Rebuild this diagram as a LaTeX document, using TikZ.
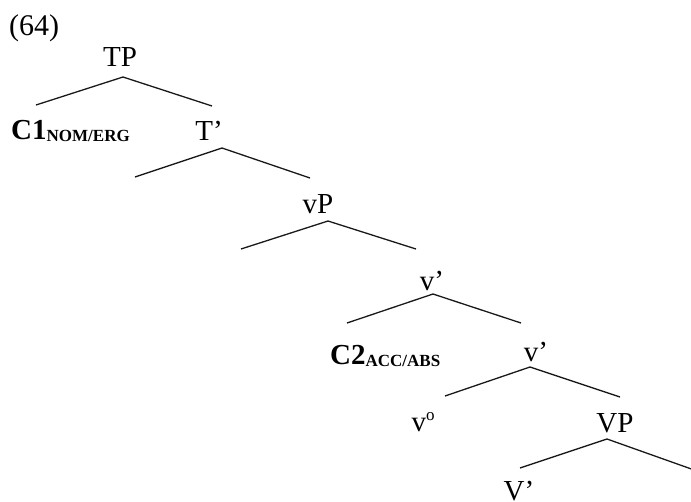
\documentclass[tikz,border=0pt]{standalone}
\usepackage{fontspec}
\setmainfont{Liberation Serif}
\tikzset{
  lab/.style={anchor=base, inner sep=0pt, font=\fontsize{29pt}{31pt}\selectfont},
  blab/.style={anchor=base west, inner sep=0pt, font=\fontsize{29pt}{31pt}\selectfont\bfseries},
  branch/.style={line width=1.3pt, black!90},
}
\newcommand{\subsc}[1]{\raisebox{-2.5pt}{\fontsize{17pt}{18pt}\selectfont\bfseries #1}}
\begin{document}
\begin{tikzpicture}[x=1pt,y=-1pt]
\useasboundingbox (0,0) rectangle (691,501);
\clip (0,0) rectangle (691,501);
\node[anchor=base west, inner sep=0pt, font=\fontsize{30pt}{32pt}\selectfont] (ex) at (9,35) {(64)};
\node[lab] (TP) at (120,66) {TP};
\node[blab] (C1) at (11,139) {C1\subsc{NOM/ERG}};
\node[lab] (T1) at (209,140) {T’};
\node[lab] (vP) at (318,213) {vP};
\node[lab] (v1) at (432,290) {v’};
\node[blab] (C2) at (330,364) {C2\subsc{ACC/ABS}};
\node[lab] (v2) at (536,361) {v’};
\node[lab] (v0) at (423,431) {v\raisebox{11pt}{\fontsize{17pt}{18pt}\selectfont o}};
\node[lab] (VP) at (615,432) {VP};
\node[lab] (V1) at (519,500) {V’};
% branch points
\coordinate (TPa) at (123,77);
\coordinate (TPl) at (36,105);
\coordinate (TPr) at (212,106);
\coordinate (T1a) at (222,148);
\coordinate (T1l) at (135,177);
\coordinate (T1r) at (310,178);
\coordinate (vPa) at (328,221);
\coordinate (vPl) at (241,249);
\coordinate (vPr) at (416,249);
\coordinate (v1a) at (433,294);
\coordinate (v1l) at (347,323);
\coordinate (v1r) at (521,323);
\coordinate (v2a) at (530,367);
\coordinate (v2l) at (445,396);
\coordinate (v2r) at (620,397);
\coordinate (VPa) at (607,439);
\coordinate (VPl) at (520,468);
\coordinate (VPr) at (697,471);
\draw[branch] (TPl) -- (TPa) -- (TPr);
\draw[branch] (T1l) -- (T1a) -- (T1r);
\draw[branch] (vPl) -- (vPa) -- (vPr);
\draw[branch] (v1l) -- (v1a) -- (v1r);
\draw[branch] (v2l) -- (v2a) -- (v2r);
\draw[branch] (VPl) -- (VPa) -- (VPr);
\end{tikzpicture}
\end{document}
